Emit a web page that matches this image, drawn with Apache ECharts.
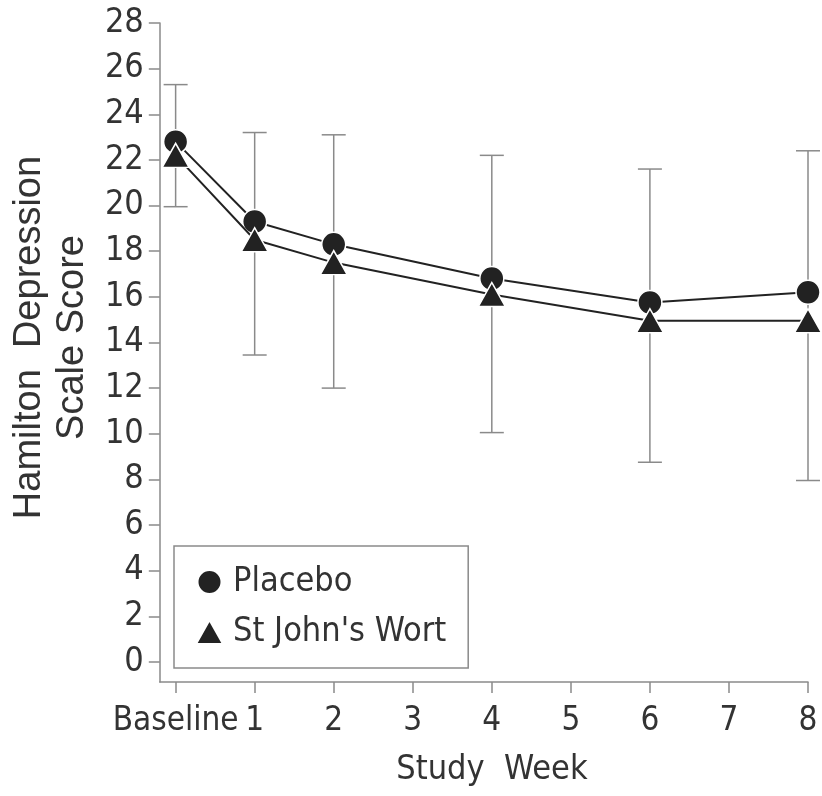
<!DOCTYPE html>
<html>
<head>
<meta charset="utf-8">
<script src="https://cdn.jsdelivr.net/npm/echarts@6/dist/echarts.min.js"></script>
<style>
html,body{margin:0;padding:0;background:#fff;}
#chart{width:822px;height:796px;}
</style>
</head>
<body>
<div id="chart"></div>
<script>
// ---- data ----
var weeks = [0, 1, 2, 4, 6, 8];
var placebo = [22.8, 19.3, 18.3, 16.8, 15.75, 16.2];
var stJohnsWort = [22.2, 18.5, 17.5, 16.1, 14.95, 14.95];
var errLow = [19.95, 13.45, 12.0, 10.05, 8.75, 7.95];
var errHigh = [25.3, 23.2, 23.1, 22.2, 21.6, 22.4];
var xTickValues = [0, 1, 2, 3, 4, 5, 6, 7, 8];
var xTickLabels = ['Baseline', '1', '2', '3', '4', '5', '6', '7', '8'];
var yTickValues = [0, 2, 4, 6, 8, 10, 12, 14, 16, 18, 20, 22, 24, 26, 28];
var seriesNames = ['Placebo', "St John's Wort"];

var narrow = "'DejaVu Sans Condensed', 'Liberation Sans Narrow', sans-serif";
var regular = "'Liberation Sans', Arial, sans-serif";
var textColor = '#333';
var axisColor = '#8a8a8a';
var markColor = '#222';

function zip(xs, ys) { return xs.map(function (x, i) { return [x, ys[i]]; }); }
var errData = weeks.map(function (w, i) { return [w, errLow[i], errHigh[i]]; });

var chart = echarts.init(document.getElementById('chart'), null, {renderer: 'canvas'});
chart.setOption({
  backgroundColor: '#fff',
  animation: false,
  grid: {left: 158, right: 14, top: 23, bottom: 114, containLabel: false},
  xAxis: {
    type: 'value', min: -0.2, max: 8,
    axisLine: {show: true, onZero: false, lineStyle: {color: axisColor, width: 1.5}},
    axisTick: {show: true, inside: false, length: 11, lineStyle: {color: axisColor, width: 1.5}, customValues: xTickValues},
    axisLabel: {
      customValues: xTickValues, margin: 23,
      fontFamily: narrow, fontSize: 33, color: textColor,
      formatter: function (v) { return xTickLabels[xTickValues.indexOf(v)]; }
    },
    splitLine: {show: false},
    name: 'Study  Week', nameLocation: 'middle', nameGap: 71,
    nameTextStyle: {fontFamily: narrow, fontSize: 34, color: textColor, padding: [0, 0, 0, 16]}
  },
  yAxis: {
    type: 'value', min: -0.88, max: 28,
    axisLine: {show: true, onZero: false, lineStyle: {color: axisColor, width: 1.5}},
    axisTick: {show: true, inside: false, length: 11, lineStyle: {color: axisColor, width: 1.5}, customValues: yTickValues},
    axisLabel: {customValues: yTickValues, margin: 16, fontFamily: narrow, fontSize: 34, color: textColor},
    splitLine: {show: false},
    name: 'Hamilton  Depression\nScale Score', nameLocation: 'middle', nameRotate: 90, nameGap: 62,
    nameTextStyle: {fontFamily: regular, fontSize: 38, lineHeight: 43, color: textColor, padding: [0, 0, 0, 30]}
  },
  legend: {
    orient: 'vertical', left: 174, top: 546,
    padding: [19, 22, 19, 21], itemGap: 16,
    itemWidth: 27, itemHeight: 24,
    borderColor: axisColor, borderWidth: 1.5,
    textStyle: {fontFamily: narrow, fontSize: 34, color: textColor, padding: [0, 0, 0, 5]},
    data: [{name: seriesNames[0], icon: 'circle'}, {name: seriesNames[1], icon: 'triangle'}]
  },
  series: [
    {
      type: 'custom', name: 'error', silent: true, z: 1,
      data: errData,
      renderItem: function (params, api) {
        var x = api.value(0);
        var lo = api.coord([x, api.value(1)]);
        var hi = api.coord([x, api.value(2)]);
        var hw = 12;
        var st = {stroke: axisColor, lineWidth: 1.5};
        return {type: 'group', children: [
          {type: 'line', shape: {x1: lo[0], y1: lo[1], x2: hi[0], y2: hi[1]}, style: st},
          {type: 'line', shape: {x1: lo[0] - hw, y1: lo[1], x2: lo[0] + hw, y2: lo[1]}, style: st},
          {type: 'line', shape: {x1: hi[0] - hw, y1: hi[1], x2: hi[0] + hw, y2: hi[1]}, style: st}
        ]};
      }
    },
    {
      type: 'line', name: seriesNames[0], z: 3,
      data: zip(weeks, placebo),
      symbol: 'circle', symbolSize: 24, showAllSymbol: true,
      lineStyle: {color: markColor, width: 2},
      itemStyle: {color: markColor, borderColor: '#fff', borderWidth: 1.5}
    },
    {
      type: 'line', name: seriesNames[1], z: 4,
      data: zip(weeks, stJohnsWort),
      symbol: 'triangle', symbolSize: [27, 24], showAllSymbol: true,
      lineStyle: {color: markColor, width: 2},
      itemStyle: {color: markColor, borderColor: '#fff', borderWidth: 1.5}
    }
  ]
});
</script>
</body>
</html>
